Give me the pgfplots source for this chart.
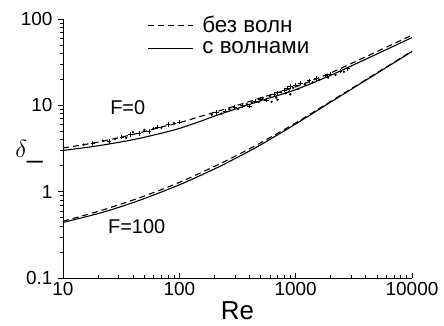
\documentclass[border=0pt]{standalone}
\usepackage{pgfplots}
\pgfplotsset{compat=1.18}
\usepackage{fontspec}
\setmainfont{Liberation Sans}
\begin{document}
\begin{tikzpicture}
\path[use as bounding box] (-63bp,-48bp) rectangle (381bp,278bp);
\begin{axis}[
  scale only axis, width=349bp, height=259bp,
  xmode=log, ymode=log,
  xmin=10, xmax=10000, ymin=0.1, ymax=100,
  axis x line*=bottom, axis y line*=left,
  axis line style={line width=0.8pt},
  xtick={10,100,1000,10000}, xticklabels={10,100,1000,10000},
  ytick={0.1,1,10,100}, yticklabels={0.1,1,10,100},
  xtick align=inside, ytick align=outside,
  major tick length=5bp, minor tick length=3bp,
  tick style={black, line width=0.6pt},
  tick label style={font=\fontsize{19}{22}\selectfont},
  xticklabel style={yshift=-1bp},
  yticklabel style={xshift=-2bp},
  xlabel={Re}, xlabel style={font=\fontsize{26}{28}\selectfont, yshift=1.5bp},
  legend style={draw=none, fill=none, font=\fontsize{22.5}{26}\selectfont,
     at={(rel axis cs:0.241,1.018)}, anchor=north west, row sep=3bp, inner sep=0pt},
  legend cell align=left,
  legend image code/.code={\draw[#1] (0bp,0bp) -- (45bp,0bp); \path (52bp,0bp);},
  clip=false,
]
% F=0, without waves (dashed)
\addplot[black, no marks, smooth, line width=1.1pt, dash pattern=on 6bp off 4bp] coordinates {
 (10,3.2) (20,3.75) (40,4.6) (70,5.6) (100,6.3) (150,7.4) (200,8.3) (300,9.8) (500,12.2) (1000,16.4) (2000,23.8) (4000,36.5) (10000,65)};
\addlegendentry{без волн}
% F=0, with waves (solid)
\addplot[black, no marks, smooth, line width=1.1pt, solid] coordinates {
 (10,3.0) (20,3.4) (40,4.0) (70,4.75) (100,5.4) (150,6.5) (200,7.5) (300,9.0) (500,11.3) (1000,15.2) (2000,22.3) (4000,34.2) (10000,61)};
\addlegendentry{с волнами}
% F=100, without waves
\addplot[black, no marks, smooth, line width=1.1pt, dash pattern=on 6bp off 4bp, forget plot] coordinates {
 (10,0.455) (20,0.59) (31.6,0.72) (50,0.89) (100,1.28) (200,1.96) (316,2.66) (500,3.68) (1000,6.25) (2000,11.1) (5000,23.8) (10000,42.5)};
% F=100, with waves
\addplot[black, no marks, smooth, line width=1.1pt, solid, forget plot] coordinates {
 (10,0.44) (20,0.557) (31.6,0.672) (50,0.832) (100,1.2) (200,1.83) (316,2.5) (500,3.49) (1000,6.08) (2000,10.9) (5000,23.5) (10000,42)};
% experimental points (dots)
\addplot[black, only marks, mark=*, mark size=1.0pt, forget plot] coordinates {
 (15,3.5) (22,3.9) (28,4.1) (35,4.2) (40,4.9) (50,5.2) (60,5.4) (70,5.5) (90,6.2)
 (190,7.8) (230,8.0) (270,9.0) (320,9.1) (380,10.3) (420,10.8) (480,10.9) (520,12.2) (600,12.8) (620,11.0) (680,12.3) (700,11.6) (750,14.2) (820,13.8) (880,14.5) (900,13.4) (950,16.0) (1050,15.5) (1200,17.5) (1400,18.5) (1600,19.8) (1900,21.0) (2200,22.5) (2600,24.5)};
% experimental points (crosses)
\addplot[black, only marks, mark=+, mark size=2.2pt, line width=0.8pt, forget plot] coordinates {
 (18,3.6) (25,3.8) (32,4.3) (38,4.6) (45,4.7) (55,5.0) (65,5.6) (80,6.0) (100,6.4)
 (210,8.3) (250,8.6) (300,9.4) (350,10.0) (400,9.8) (450,11.2) (500,11.8) (560,11.5) (650,13.4) (700,14.0) (800,15.0) (850,15.8) (900,16.5) (1000,17.2) (1100,18.0) (1300,19.2) (1500,20.5) (1800,22.0) (2000,23.0) (2400,25.0) (2800,26.5)};
\node[font=\fontsize{20}{23}\selectfont] at (axis cs:36,9.3) {F=0};
\node[font=\fontsize{20}{23}\selectfont] at (axis cs:43,0.39) {F=100};
\node[font=\fontsize{28}{30}\selectfont, anchor=center, xshift=-34bp] at (rel axis cs:0,0.4865) {$\delta$\_};
\end{axis}
\end{tikzpicture}
\end{document}
